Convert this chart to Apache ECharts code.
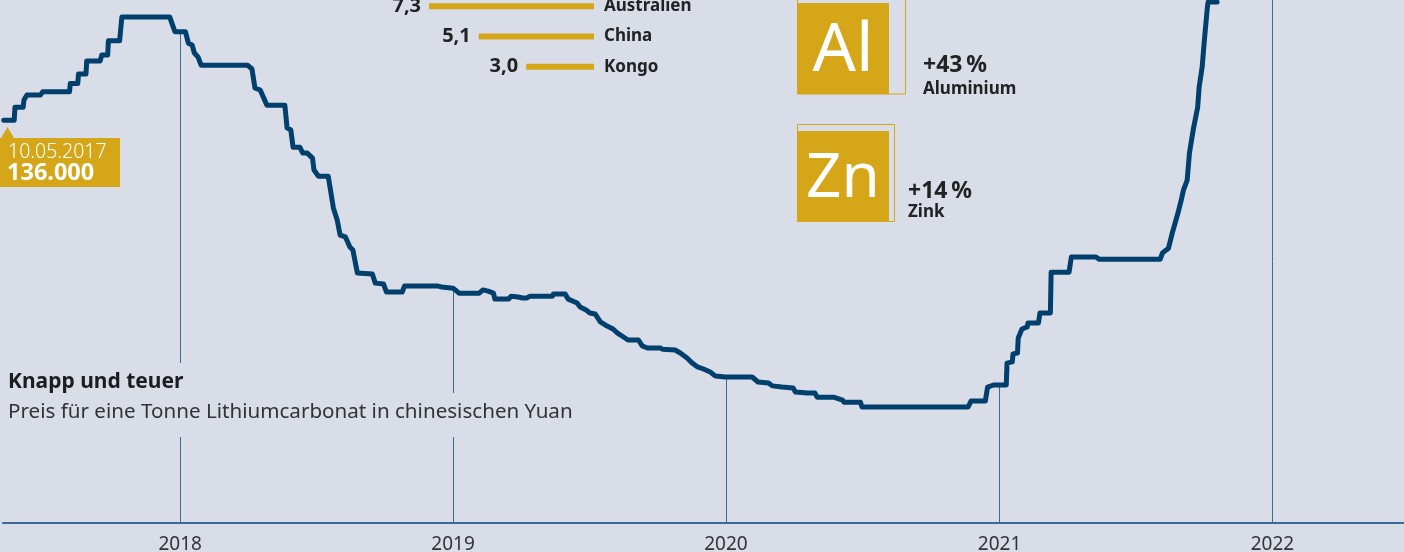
<!DOCTYPE html>
<html><head><meta charset="utf-8">
<script src="https://cdn.jsdelivr.net/npm/echarts@6/dist/echarts.min.js"></script>
<style>html,body{margin:0;padding:0;background:#d9dde8;}#c{width:1404px;height:552px;}</style>
</head><body><div id="c"></div>
<script>
// ---- data ----
const dates = ['2017-05-10','2017-05-24','2017-05-25','2017-06-05','2017-06-06','2017-06-10','2017-06-28','2017-07-01','2017-08-06','2017-08-07','2017-08-17','2017-08-18','2017-08-28','2017-08-29','2017-09-16','2017-09-18','2017-09-26','2017-09-27','2017-10-12','2017-10-15','2017-12-18','2017-12-21','2017-12-25','2018-01-08','2018-01-12','2018-01-17','2018-01-20','2018-01-25','2018-01-29','2018-04-01','2018-04-07','2018-04-11','2018-04-18','2018-04-27','2018-05-21','2018-05-24','2018-05-29','2018-06-01','2018-06-10','2018-06-14','2018-06-20','2018-06-27','2018-06-29','2018-07-05','2018-07-18','2018-07-25','2018-07-30','2018-08-03','2018-08-10','2018-08-16','2018-08-20','2018-08-26','2018-09-15','2018-09-19','2018-09-30','2018-10-04','2018-10-25','2018-10-28','2018-12-12','2018-12-17','2019-01-01','2019-01-09','2019-02-05','2019-02-10','2019-02-17','2019-02-24','2019-02-26','2019-03-16','2019-03-20','2019-03-29','2019-04-04','2019-04-10','2019-04-14','2019-05-14','2019-05-15','2019-05-31','2019-06-04','2019-06-16','2019-06-20','2019-06-28','2019-07-03','2019-07-10','2019-07-17','2019-07-24','2019-08-03','2019-08-09','2019-08-17','2019-08-23','2019-09-06','2019-09-11','2019-09-18','2019-10-05','2019-10-08','2019-10-25','2019-11-01','2019-11-10','2019-11-17','2019-11-24','2019-12-02','2019-12-11','2019-12-18','2019-12-31','2020-02-05','2020-02-13','2020-02-27','2020-03-03','2020-03-16','2020-03-31','2020-04-03','2020-04-19','2020-04-29','2020-05-02','2020-05-24','2020-05-26','2020-06-05','2020-06-07','2020-06-29','2020-07-01','2020-11-20','2020-11-24','2020-12-13','2020-12-16','2020-12-24','2021-01-10','2021-01-11','2021-01-18','2021-01-19','2021-01-25','2021-01-26','2021-01-31','2021-02-07','2021-02-08','2021-02-22','2021-02-24','2021-03-10','2021-03-11','2021-04-04','2021-04-07','2021-05-10','2021-05-14','2021-08-04','2021-08-07','2021-08-15','2021-08-20','2021-08-25','2021-08-28','2021-09-01','2021-09-04','2021-09-09','2021-09-12','2021-09-17','2021-09-23','2021-09-25','2021-09-29','2021-10-02','2021-10-06','2021-10-07','2021-10-19'];
const prices = [136000,136000,140400,140400,142800,144500,144500,145600,145600,148400,148400,151600,151600,156000,156000,158000,158000,162800,162800,170900,170900,168700,165900,165900,162000,161400,158700,157300,154600,154600,153300,146900,146200,141100,141100,133400,132700,126900,126900,124900,124900,123200,119200,117100,117100,106300,102300,97200,96600,93200,92200,84400,84100,81000,80700,78000,78000,80000,80000,79700,79300,77600,77600,78700,78300,77600,75600,75600,76600,76300,76000,76000,76600,76600,77300,77300,75600,74300,72900,71900,70900,70600,67900,66800,65500,64100,62800,61800,61800,59800,59100,59100,58700,58400,57400,55700,54000,52700,52000,51000,49600,49300,49300,47600,47300,46300,45900,45600,44200,43900,43900,42500,42500,41900,41500,40800,40800,39200,39200,41200,41200,45900,46600,46600,54000,54400,57100,57400,62500,65500,66200,67500,67500,70900,70900,84700,84700,89800,89800,89100,89100,91200,92800,97900,102300,105000,109000,112400,115800,124900,132700,140400,147200,153900,163100,174200,175900,175900];
const yearTicks = ['2018-01-01','2019-01-01','2020-01-01','2021-01-01','2022-01-01'];
const countries = ['Australien','China','Kongo'];
const reserves = [7.3, 5.1, 3.0];
const metalSymbols = ['Al','Zn'];
const metalNames = ['Aluminium','Zink'];
const metalChanges = ['+43\u202f%','+14\u202f%'];
const startLabelDate = '10.05.2017';
const startLabelValue = '136.000';
const titleText = 'Knapp und teuer';
const subtitleText = 'Preis für eine Tonne Lithiumcarbonat in chinesischen Yuan';

// ---- helpers ----
const BG = '#d9dde8', GOLD = '#d5a618', NAVY = '#013f6d', AXIS = '#3b6a96';
const FONT = '"Noto Sans", sans-serif';
const ts = s => { const [y,m,d] = s.split('-').map(Number); return new Date(y, m-1, d).getTime(); };
const X_MIN = ts('2017-05-09'), X_MAX = ts('2022-06-26'), Y_MAX = 176600;
const pts = dates.map((d,i) => [ts(d), prices[i]]);
function valueAt(t){
  if (t > pts[pts.length-1][0]) return Y_MAX;
  for (let i=0;i<pts.length-1;i++){
    if (t>=pts[i][0] && t<=pts[i+1][0]){
      const f=(t-pts[i][0])/((pts[i+1][0]-pts[i][0])||1);
      return pts[i][1]+f*(pts[i+1][1]-pts[i][1]);
    }
  }
  return pts[0][1];
}

const chart = echarts.init(document.getElementById('c'), null, {renderer:'canvas'});
const tileTop = [3, 131];
const outline = [{x:797.5,y:-15.5,w:108,h:109.5},{x:797.5,y:124.5,w:97,h:97}];
const symSize = [68, 62];
const symY = [52, 179];
const changeX = [923, 908];
const changeY = [65, 191.5];
const nameY = [89.5, 212.5];

const graphics = [];
// masks behind title/subtitle
graphics.push({type:'rect', z:50, shape:{x:0,y:363,width:192,height:32}, style:{fill:BG}});
graphics.push({type:'rect', z:50, shape:{x:0,y:393,width:586,height:44}, style:{fill:BG}});
graphics.push({type:'text', z:51, x:8, y:382, style:{text:titleText, fill:'#1d1d1f', font:'bold 21px '+FONT, verticalAlign:'middle'}});
graphics.push({type:'text', z:51, x:8, y:412, style:{text:subtitleText, fill:'#333', font:'20.6px '+FONT, verticalAlign:'middle'}});
// start label
graphics.push({type:'polygon', z:50, shape:{points:[[1,138],[7.5,127],[14,138]]}, style:{fill:GOLD}});
graphics.push({type:'rect', z:50, shape:{x:0,y:138,width:120,height:49}, style:{fill:GOLD}});
graphics.push({type:'text', z:51, x:8, y:152, style:{text:startLabelDate, fill:'#fff', font:'300 19.5px '+FONT, verticalAlign:'middle'}});
graphics.push({type:'text', z:51, x:7, y:173.5, style:{text:startLabelValue, fill:'#fff', font:'bold 23.5px '+FONT, verticalAlign:'middle'}});
// metal tiles
metalSymbols.forEach((s,i)=>{
  const o = outline[i];
  graphics.push({type:'rect', z:40, shape:{x:o.x,y:o.y,width:o.w,height:o.h}, style:{fill:'none', stroke:GOLD, lineWidth:1}});
  graphics.push({type:'rect', z:41, shape:{x:797,y:tileTop[i],width:92,height:91}, style:{fill:GOLD}});
  graphics.push({type:'text', z:42, x:843, y:symY[i], style:{text:s, fill:'#fff', font:symSize[i]+'px '+FONT, align:'center', verticalAlign:'middle'}});
  graphics.push({type:'text', z:42, x:changeX[i], y:changeY[i], style:{text:metalChanges[i], fill:'#222', font:'bold 23px '+FONT, verticalAlign:'middle'}});
  graphics.push({type:'text', z:42, x:changeX[i], y:nameY[i], style:{text:metalNames[i], fill:'#222', font:'bold 17px '+FONT, verticalAlign:'middle'}});
});

chart.setOption({
  animation:false,
  backgroundColor:BG,
  grid:[
    {left:3, right:0, top:0, bottom:29, outerBoundsMode:'none', containLabel:false},
    {left:368, width:226, top:6.3, height:60.4, outerBoundsMode:'none', containLabel:false}
  ],
  xAxis:[
    {type:'time', gridIndex:0, min:X_MIN, max:X_MAX,
     minInterval:365*86400000, maxInterval:366*86400000,
     axisLine:{show:true, lineStyle:{color:AXIS, width:2}},
     axisTick:{show:false}, splitLine:{show:false},
     axisLabel:{show:true, showMinLabel:false, showMaxLabel:false, margin:12, color:'#333', fontSize:19, fontFamily:FONT,
       formatter: v => { const d=new Date(v); return (d.getMonth()===0 && d.getDate()===1) ? String(d.getFullYear()) : ''; }}},
    {type:'value', gridIndex:1, min:0, max:10, inverse:true, show:false}
  ],
  yAxis:[
    {type:'value', gridIndex:0, min:0, max:Y_MAX, show:false},
    {type:'category', gridIndex:1, data:countries, inverse:true, position:'right', boundaryGap:false,
     axisLine:{show:false}, axisTick:{show:false},
     axisLabel:{margin:10, color:'#222', fontWeight:'bold', fontSize:17, fontFamily:FONT}}
  ],
  series:[
    {type:'line', xAxisIndex:0, yAxisIndex:0, data:[], z:1, silent:true,
     markLine:{silent:true, symbol:'none', animation:false, label:{show:false},
       lineStyle:{color:AXIS, width:1, type:'solid'},
       data: yearTicks.map(d => { const t=ts(d); return [{coord:[t, valueAt(t)]},{coord:[t,0]}]; })}},
    {type:'line', xAxisIndex:0, yAxisIndex:0, data:pts, z:5, showSymbol:false, symbol:'none', clip:true,
     lineStyle:{color:NAVY, width:5, cap:'round', join:'round'}},
    {type:'bar', xAxisIndex:1, yAxisIndex:1, data:reserves, barWidth:6, itemStyle:{color:GOLD},
     label:{show:true, position:'left', distance:8, color:'#222', fontWeight:'bold', fontSize:20, fontFamily:FONT,
       formatter: p => p.value.toFixed(1).replace('.', ',')}}
  ],
  graphic: graphics
});
</script></body></html>
